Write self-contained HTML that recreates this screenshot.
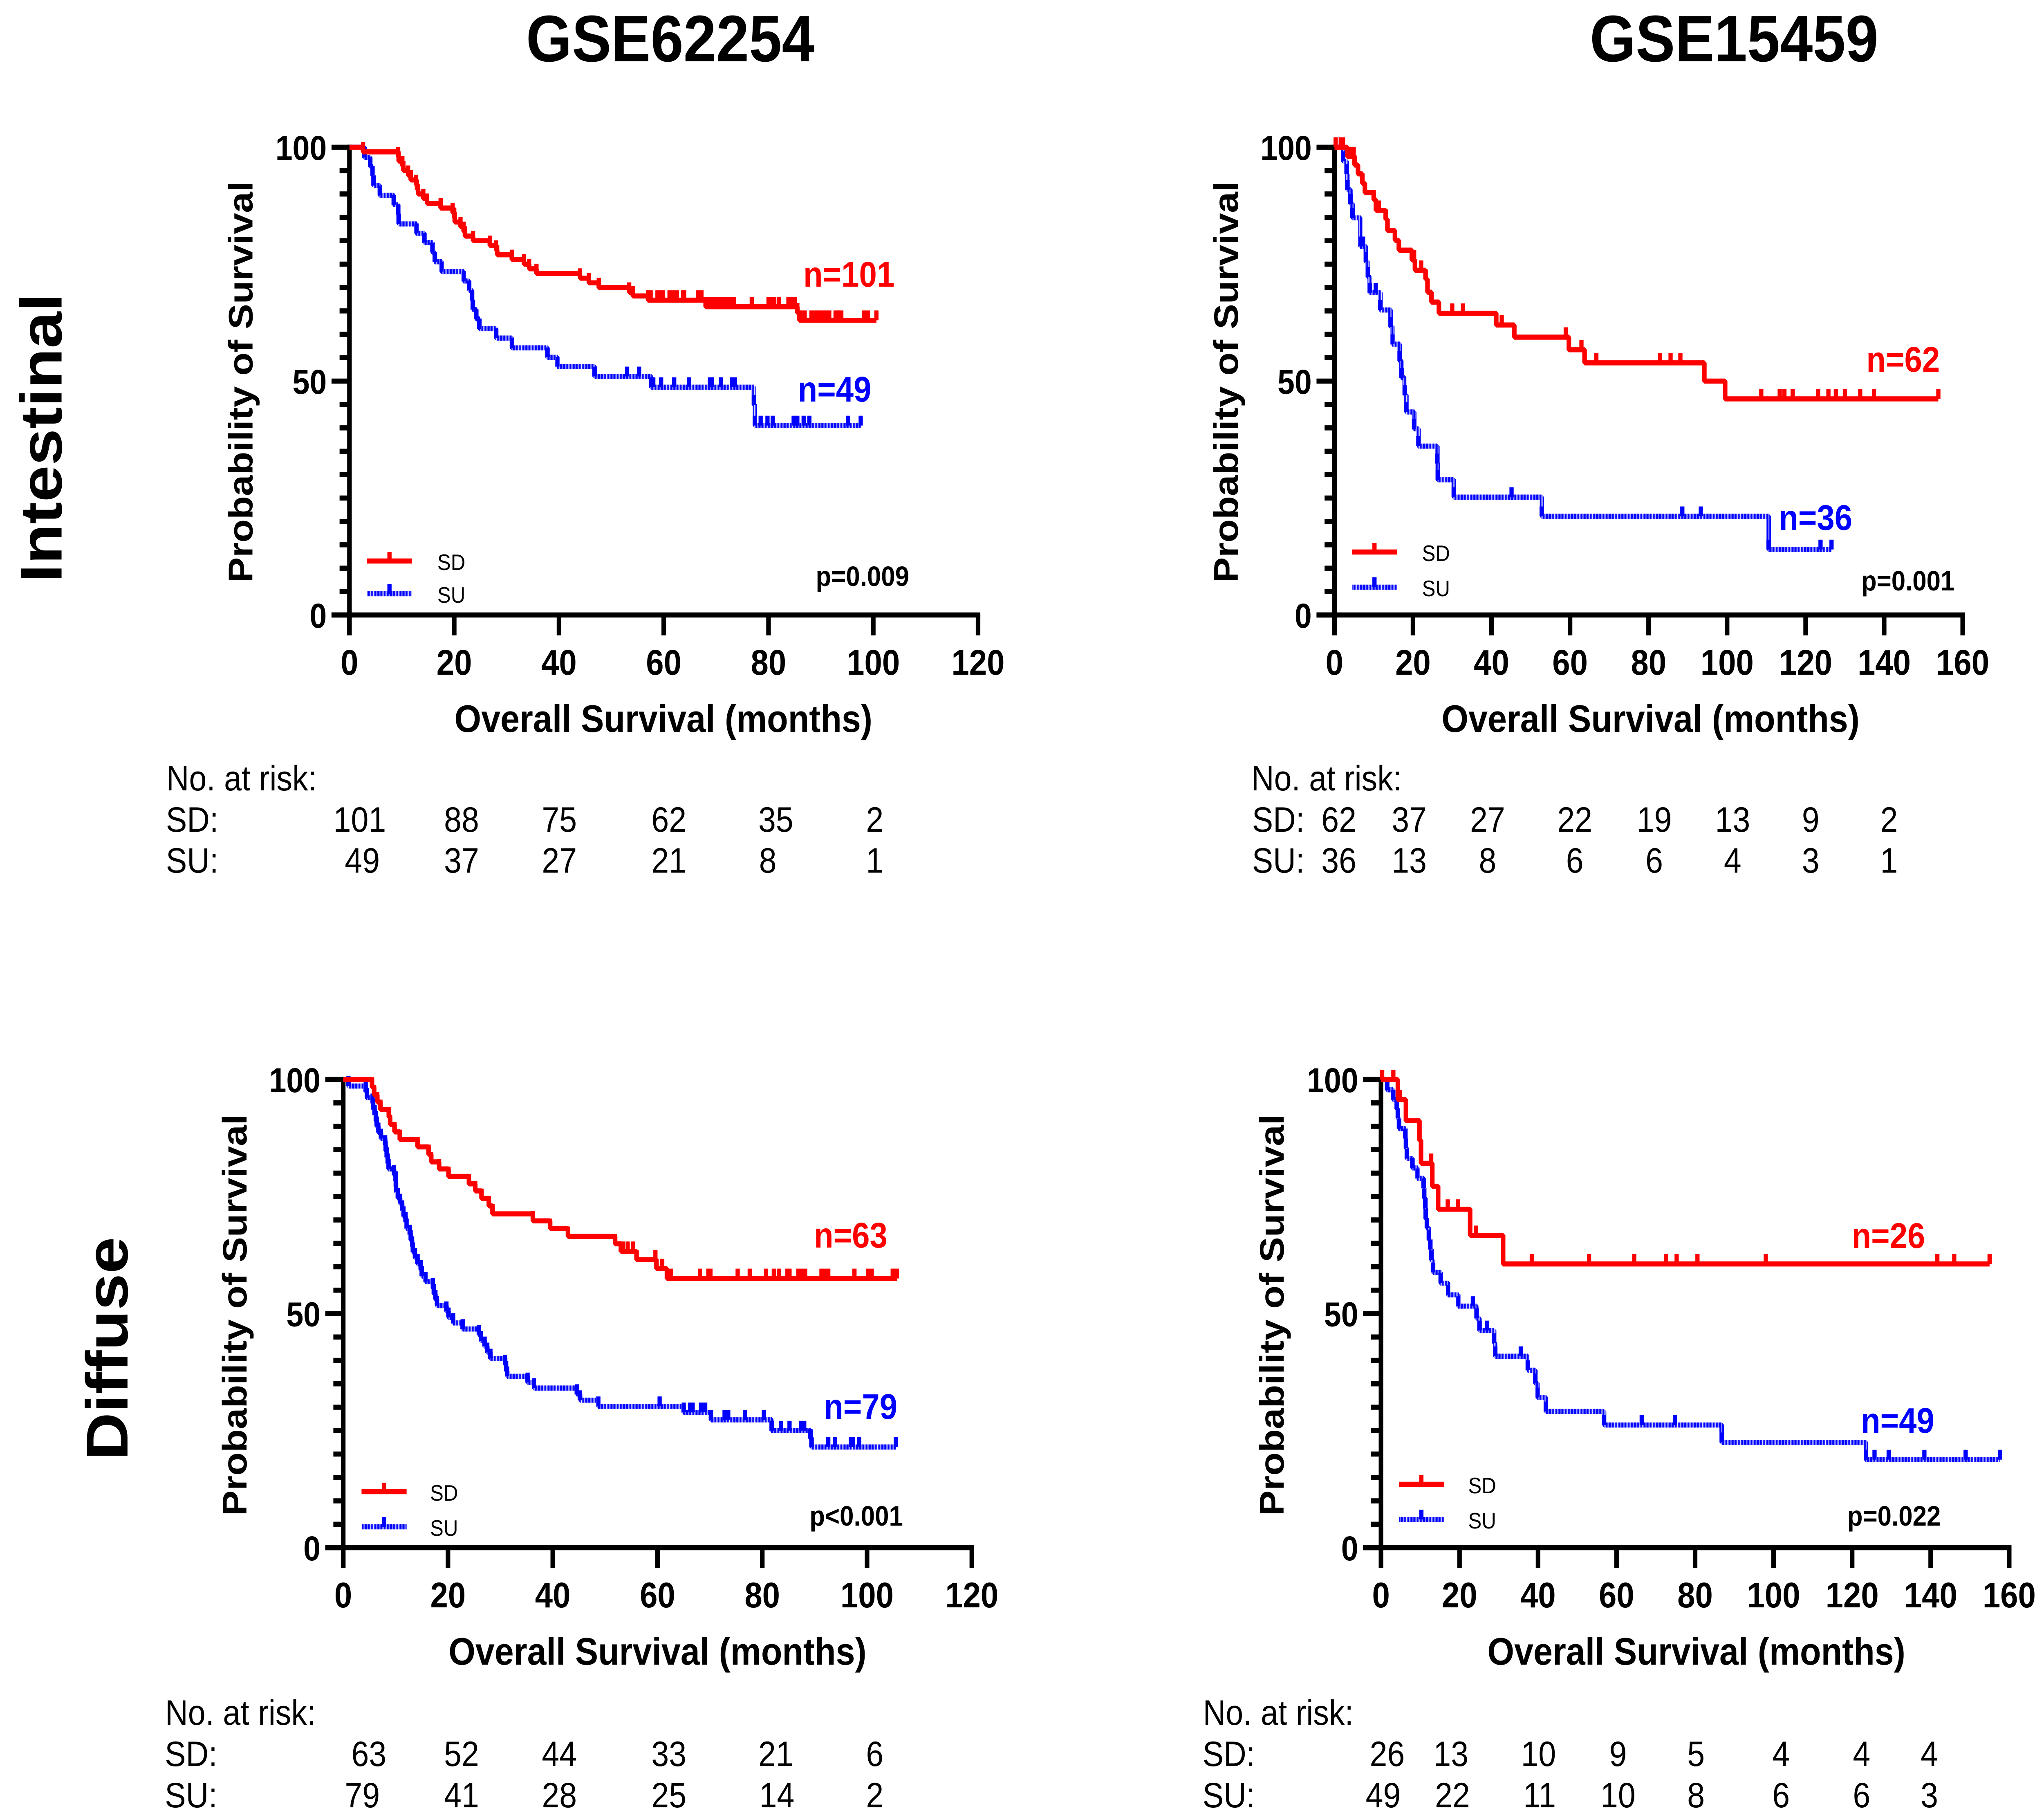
<!DOCTYPE html>
<html lang="en">
<head>
<meta charset="utf-8">
<title>Kaplan-Meier survival curves: GSE62254 and GSE15459</title>
<style>
html,body{margin:0;padding:0;background:#fff;width:100%;height:100%;overflow:hidden;}
svg{display:block;width:100vw;height:100vh;}
text{font-family:"Liberation Sans",Arial,sans-serif;fill:#000;}
.title{font-size:161px;font-weight:700;text-anchor:middle;}
.row{font-size:161px;font-weight:700;text-anchor:middle;}
.ytitle{font-size:93px;font-weight:700;text-anchor:start;}
.xtitle{font-size:94.2px;font-weight:700;text-anchor:middle;}
.nl{font-size:87px;font-weight:700;}
.pv{font-size:69px;font-weight:700;}
.rk{font-size:86px;}
.rn{font-size:86px;text-anchor:middle;}
.lg{font-size:55px;}
.tky{font-size:84px;font-weight:700;}
.tkx{font-size:87px;font-weight:700;}
</style>
</head>
<body>
<svg id="fig" xmlns="http://www.w3.org/2000/svg" viewBox="0 0 5580 4451" preserveAspectRatio="none">
<defs>
<pattern id="hatch" patternUnits="userSpaceOnUse" width="4" height="4"><rect width="3" height="4" fill="#0000ff"/></pattern>
</defs>
<rect width="5580" height="4451" fill="#fff"/>

<text class="title" x="1830" y="150">GSE62254</text>
<text class="title" x="4734" y="150">GSE15459</text>
<text class="row" transform="translate(168,1071) rotate(-90)">Intestinal</text>
<text class="row" transform="translate(348,3298) rotate(-90)">Diffuse</text>

<text class="ytitle" transform="translate(689,1425) rotate(-90)">Probability of Survival</text>
<text class="ytitle" transform="translate(3379,1425) rotate(-90)">Probability of Survival</text>
<text class="ytitle" transform="translate(673,3707) rotate(-90)">Probability of Survival</text>
<text class="ytitle" transform="translate(3504,3707) rotate(-90)">Probability of Survival</text>

<text class="xtitle" x="1811" y="1790">Overall Survival (months)</text>
<text class="xtitle" x="4506" y="1790">Overall Survival (months)</text>
<text class="xtitle" x="1795" y="4071">Overall Survival (months)</text>
<text class="xtitle" x="4631" y="4071">Overall Survival (months)</text>

<g id="plots"></g>

<text class="nl" x="2193" y="701" style="fill:#ff0000">n=101</text>
<text class="nl" x="2178" y="982" style="fill:#0000ff">n=49</text>
<text class="nl" x="5095" y="909" style="fill:#ff0000">n=62</text>
<text class="nl" x="4856" y="1296" style="fill:#0000ff">n=36</text>
<text class="nl" x="2222" y="3051" style="fill:#ff0000">n=63</text>
<text class="nl" x="2249" y="3470" style="fill:#0000ff">n=79</text>
<text class="nl" x="5055" y="3052" style="fill:#ff0000">n=26</text>
<text class="nl" x="5080" y="3504" style="fill:#0000ff">n=49</text>

<text class="pv" x="2227" y="1433">p=0.009</text>
<text class="pv" x="5081" y="1444">p=0.001</text>
<text class="pv" x="2210" y="3731">p&lt;0.001</text>
<text class="pv" x="5043" y="3731">p=0.022</text>

<g>
<text class="rk" x="454" y="1933">No. at risk:</text>
<text class="rk" x="453" y="2034">SD:</text>
<text class="rk" x="453" y="2134">SU:</text>
<text class="rn" x="982" y="2034">101</text>
<text class="rn" x="1260" y="2034">88</text>
<text class="rn" x="1527" y="2034">75</text>
<text class="rn" x="1826" y="2034">62</text>
<text class="rn" x="2118" y="2034">35</text>
<text class="rn" x="2388" y="2034">2</text>
<text class="rn" x="989" y="2134">49</text>
<text class="rn" x="1260" y="2134">37</text>
<text class="rn" x="1527" y="2134">27</text>
<text class="rn" x="1826" y="2134">21</text>
<text class="rn" x="2096" y="2134">8</text>
<text class="rn" x="2388" y="2134">1</text>
</g>

<g>
<text class="rk" x="3416" y="1933">No. at risk:</text>
<text class="rk" x="3418" y="2034">SD:</text>
<text class="rk" x="3418" y="2134">SU:</text>
<text class="rn" x="3655" y="2034">62</text>
<text class="rn" x="3847" y="2034">37</text>
<text class="rn" x="4061" y="2034">27</text>
<text class="rn" x="4299" y="2034">22</text>
<text class="rn" x="4516" y="2034">19</text>
<text class="rn" x="4730" y="2034">13</text>
<text class="rn" x="4943" y="2034">9</text>
<text class="rn" x="5157" y="2034">2</text>
<text class="rn" x="3655" y="2134">36</text>
<text class="rn" x="3847" y="2134">13</text>
<text class="rn" x="4061" y="2134">8</text>
<text class="rn" x="4299" y="2134">6</text>
<text class="rn" x="4516" y="2134">6</text>
<text class="rn" x="4730" y="2134">4</text>
<text class="rn" x="4943" y="2134">3</text>
<text class="rn" x="5157" y="2134">1</text>
</g>

<g>
<text class="rk" x="451" y="4218">No. at risk:</text>
<text class="rk" x="450" y="4319">SD:</text>
<text class="rk" x="450" y="4420">SU:</text>
<text class="rn" x="1007" y="4319">63</text>
<text class="rn" x="1260" y="4319">52</text>
<text class="rn" x="1527" y="4319">44</text>
<text class="rn" x="1826" y="4319">33</text>
<text class="rn" x="2118" y="4319">21</text>
<text class="rn" x="2388" y="4319">6</text>
<text class="rn" x="989" y="4420">79</text>
<text class="rn" x="1260" y="4420">41</text>
<text class="rn" x="1527" y="4420">28</text>
<text class="rn" x="1826" y="4420">25</text>
<text class="rn" x="2121" y="4420">14</text>
<text class="rn" x="2388" y="4420">2</text>
</g>

<g>
<text class="rk" x="3284" y="4218">No. at risk:</text>
<text class="rk" x="3283" y="4319">SD:</text>
<text class="rk" x="3283" y="4420">SU:</text>
<text class="rn" x="3787" y="4319">26</text>
<text class="rn" x="3961" y="4319">13</text>
<text class="rn" x="4200" y="4319">10</text>
<text class="rn" x="4417" y="4319">9</text>
<text class="rn" x="4630" y="4319">5</text>
<text class="rn" x="4862" y="4319">4</text>
<text class="rn" x="5082" y="4319">4</text>
<text class="rn" x="5267" y="4319">4</text>
<text class="rn" x="3776" y="4420">49</text>
<text class="rn" x="3965" y="4420">22</text>
<text class="rn" x="4203" y="4420">11</text>
<text class="rn" x="4417" y="4420">10</text>
<text class="rn" x="4630" y="4420">8</text>
<text class="rn" x="4862" y="4420">6</text>
<text class="rn" x="5082" y="4420">6</text>
<text class="rn" x="5267" y="4420">3</text>
</g>
</svg>

<script>
// ---- axis tick values ----
const yMajorTicks = [0, 50, 100];
const yMinorTicks = [5, 10, 15, 20, 25, 30, 35, 40, 45, 55, 60, 65, 70, 75, 80, 85, 90, 95];
const xTicks120 = [0, 20, 40, 60, 80, 100, 120];
const xTicks160 = [0, 20, 40, 60, 80, 100, 120, 140, 160];

// ---- GSE62254 intestinal ----
const aSdTimes = [2.6,9.3,9.4,10.1,10.3,11.2,11.7,12.7,12.9,13.1,14.1,14.8,17.4,19.7,20,20.1,21.2,21.8,22.05,23.6,26.8,28,28.2,31,33.3,34.3,35.7,44,45.7,47.6,53.4,54.1,57,68,85.5,85.9];
const aSdSurvival = [99,98,97,96,95,94,93,92,91,90,89,88,87,86,85,84,83,82,81,80,79,78,77,76,75,74,73,72,71,70,69,68.2,67.3,65.9,64.6,63];
const aSdCensored = [57,57.5,58.8,59.3,59.8,61.1,61.7,62.5,63.7,63.9,66.6,67.2,68.2,68.9,69.6,70.2,70.9,71.3,72,72.7,73.4,76.8,80,80.6,81.1,82,83.8,84.4,85,86.1,86.9,88.2,89,89.6,90.3,91,91.6,92.8,93.3,93.9,98.2,99,100.6];
const aSuTimes = [2.86,3.96,4.4,4.6,5.8,8.46,9.3,9.4,12.8,14.3,15.85,16.3,17.6,21.8,22.85,23.4,23.55,24.2,24.8,28,31,37.8,39.7,46.8,57.6,77.2,77.4];
const aSuSurvival = [97.8,95.9,93.9,91.8,89.7,87.7,85.7,83.6,81.6,79.6,77.5,75.5,73.4,71.4,69.4,67.3,65.3,63.3,61.2,59.2,57.1,55.1,53.1,51,48.7,44.9,40.5];
const aSuCensored = [53,55.3,58,59.5,62,64.8,68.8,69.2,70.9,73,73.6,78.5,79.8,80.8,84.8,85.5,86.7,87.8,95.2,97.6];

// ---- GSE15459 intestinal ----
const bSdTimes = [3.3,5.1,6,7.1,7.75,10,10.55,13.05,13.5,15.4,16.4,19.7,20.5,23.2,23.7,24.7,26.6,41.2,45.8,59.7,63.7,94.2,99.5];
const bSdSurvival = [98,96.2,94.3,92.3,90.3,88.8,86.5,84.6,82.2,80.1,78,75.9,73.7,71.8,69,66.9,64.5,62,59.4,56.7,53.9,50,46.2];
const bSdCensored = [0.3,1.6,2.2,3.5,4.3,4.9,11.3,20.3,22.1,30,32.7,42.6,58.9,62.9,66.7,82.9,85.6,88.1,108.7,113.4,114.6,116.7,123.2,125.8,127.7,130,133.9,137.4,153.8];
const bSuTimes = [2.2,3.1,3.3,4.1,4.6,6.6,8,8.5,9,11.7,14.3,14.8,16.6,17.1,17.9,18.3,20.3,21.4,26.2,26.3,30.4,52.8,110.6];
const bSuSurvival = [97,94.3,90.9,87.9,84.9,78.8,75.5,72.3,68.9,65.2,61.6,57.9,54.3,50.7,47,43.4,39.8,36.1,32.4,28.9,25.2,21.1,14];
const bSuCensored = [7.3,10.5,45.1,88.6,93.3,123.8,126.6];

// ---- GSE62254 diffuse ----
const cSdTimes = [5.5,5.9,6.5,7.1,8.7,8.95,9.8,10.8,14.2,16.3,16.8,18.3,20.1,24,25.2,26.4,27.8,28.5,36.2,39.5,42.9,51.9,53,56,59.8,61.8];
const cSdSurvival = [98.4,96.7,95.2,93.6,92,90.4,88.8,87.2,85.6,84,82.4,80.9,79.3,77.7,76.2,74.6,73,71.3,69.8,68.2,66.5,64.9,63.3,61.5,59.6,57.5];
const cSdCensored = [53.4,54.3,55.3,59.6,60.9,62.6,68.1,69.7,70.1,75.3,77.6,80.7,82.2,83.2,84.8,85.2,86.9,87.4,88.2,91.3,92,92.6,97.6,100.2,100.9,104.9,105.3,105.7];
const cSuTimes = [1,4.3,4.5,5.6,5.7,6,6.2,6.4,6.7,7.2,8,8.1,8.3,8.5,8.66,9.7,10,10.05,10.1,10.4,10.85,11.26,11.5,11.9,12.1,12.7,12.87,13.15,13.3,13.7,14.2,14.8,15,15.7,17.1,17.3,17.6,17.9,19.7,20.1,21,22.8,25.9,26.3,27,27.5,28.1,30.9,31.1,31.3,35.2,36.4,44.6,45.2,48.7,65,70.2,81.8,89.2,89.4];
const cSuSurvival = [98.6,97.4,96.1,94.9,93.7,92.4,91.2,90,88.7,87.4,86,84.7,83.4,82.1,80.9,79.6,78.3,77.1,76,74.7,73.5,72.1,70.8,69.6,68.2,66.9,65.7,64.4,63.1,61.9,60.6,59.4,58,56.8,55.5,54.2,53,51.7,50.5,49.2,48,46.7,45.5,44.2,43,41.7,40.4,39.1,37.8,36.6,35.3,34.1,32.8,31.5,30.2,28.9,27.3,25,23.3,21.5];
const cSuCensored = [60.4,66.2,66.7,68.3,69.1,72.8,73.5,76.7,80.3,83.6,85.2,87.4,88,92.6,93.9,96.9,97.3,98.5,105.5];

// ---- GSE15459 diffuse ----
const dSdTimes = [4.3,6.35,9.8,10.2,13.06,14.55,22.7,31.1];
const dSdSurvival = [95.7,91.2,87,82.1,77.2,72.3,66.7,60.6];
const dSdCensored = [0.3,3.15,4.8,12.8,17,19.6,24.2,38.4,53,64.5,72.6,75.3,80.6,98,141.7,146,155];
const dSuTimes = [1.57,3.1,4,4.3,4.6,6.2,6.35,6.6,8,9.3,10.85,11,11.3,11.4,11.7,12.2,12.56,12.85,13.26,15.2,17.1,19.7,24.35,25.1,28.8,29.1,37.4,39.3,39.9,42,56.8,86.8,123.5];
const dSuSurvival = [97.8,95.7,93.7,91.7,89.5,87.4,85.3,83.1,81.1,78.9,76.8,74.6,72.5,70.3,68.3,65.8,63.7,61.4,58.8,56.5,54,51.6,49,46.4,43.7,40.9,37.9,35.1,32.1,29.1,26.2,22.5,18.8];
const dSuCensored = [23.4,27,35.6,66.4,74.9,125.7,129.3,138.4,148.9,157.7];

// ---- panel layout (frame geometry only) ----
const panelA = {id:'a', left:954, bottom:1504, right:2670, top:360, xMax:120, xTicks:xTicks120, legLeft:1002, legRedY:1372, legBlueY:1452, legTextX:1197,
  sd:{t:aSdTimes, s:aSdSurvival, c:aSdCensored}, su:{t:aSuTimes, s:aSuSurvival, c:aSuCensored}};
const panelB = {id:'b', left:3643, bottom:1504, right:5358, top:360, xMax:160, xTicks:xTicks160, legLeft:3691, legRedY:1350, legBlueY:1436, legTextX:3885,
  sd:{t:bSdTimes, s:bSdSurvival, c:bSdCensored}, su:{t:bSuTimes, s:bSuSurvival, c:bSuCensored}};
const panelC = {id:'c', left:937, bottom:3785, right:2653, top:2640, xMax:120, xTicks:xTicks120, legLeft:987, legRedY:3648, legBlueY:3734, legTextX:1177,
  sd:{t:cSdTimes, s:cSdSurvival, c:cSdCensored}, su:{t:cSuTimes, s:cSuSurvival, c:cSuCensored}};
const panelD = {id:'d', left:3770, bottom:3785, right:5485, top:2640, xMax:160, xTicks:xTicks160, legLeft:3819, legRedY:3630, legBlueY:3716, legTextX:4011,
  sd:{t:dSdTimes, s:dSdSurvival, c:dSdCensored}, su:{t:dSuTimes, s:dSuSurvival, c:dSuCensored}};

const NS = 'http://www.w3.org/2000/svg';
const AXIS_W = 12.5;
const TICK_W = 11.5;
const TICK_H = 24;

function mk(tag, attrs, parent) {
  const el = document.createElementNS(NS, tag);
  for (const k in attrs) el.setAttribute(k, attrs[k]);
  parent.appendChild(el);
  return el;
}

function levelAt(series, t) {
  let lvl = 100;
  for (let i = 0; i < series.t.length; i++) {
    if (series.t[i] <= t) lvl = series.s[i];
  }
  return lvl;
}

function drawSeries(p, series, color, stroke, name, parent, xScale, yScale) {
  const g = mk('g', {}, parent);
  
  
  const lastCensor = series.c.length ? Math.max.apply(null, series.c) : 0;
  const lastEvent = series.t[series.t.length - 1];
  const end = Math.max(lastCensor, lastEvent);
  let d = 'M' + xScale(0) + ' ' + yScale(100);
  for (let i = 0; i < series.t.length; i++) {
    d += 'H' + xScale(series.t[i]).toFixed(1) + 'V' + yScale(series.s[i]).toFixed(1);
  }
  d += 'H' + xScale(end).toFixed(1);
  const line = mk('path', {d: d, fill: 'none', stroke: stroke, 'stroke-width': AXIS_W, 'stroke-linejoin': 'bevel'}, g);
  
  
  for (let i = 0; i < series.t.length; i++) {
    const tick = mk('rect', {x: (xScale(series.t[i]) - TICK_W / 2).toFixed(1), y: (yScale(series.s[i]) - TICK_H).toFixed(1), width: TICK_W, height: TICK_H, fill: color}, g);
    
    
  }
  for (let i = 0; i < series.c.length; i++) {
    const tick = mk('rect', {x: (xScale(series.c[i]) - TICK_W / 2).toFixed(1), y: (yScale(levelAt(series, series.c[i])) - TICK_H).toFixed(1), width: TICK_W, height: TICK_H, fill: color}, g);
    
    
  }
}

function drawPanel(p) {
  const root = document.getElementById('plots');
  const xScale = t => p.left + t * (p.right - p.left) / p.xMax;
  const yScale = s => p.bottom - s * (p.bottom - p.top) / 100;
  const g = mk('g', {}, root);
  
  

  const yAxis = mk('line', {x1: p.left, x2: p.left, y1: p.top - AXIS_W / 2, y2: p.bottom + 50, stroke: '#000', 'stroke-width': AXIS_W}, g);
  
  
  const xAxis = mk('line', {x1: p.left - 49, x2: p.right + AXIS_W / 2, y1: p.bottom, y2: p.bottom, stroke: '#000', 'stroke-width': AXIS_W}, g);
  
  

  yMinorTicks.forEach(v => {
    const m = mk('line', {x1: p.left - 27, x2: p.left, y1: yScale(v), y2: yScale(v), stroke: '#000', 'stroke-width': AXIS_W}, g);
    
    
  });
  yMajorTicks.forEach(v => {
    const m = mk('line', {x1: p.left - 49, x2: p.left, y1: yScale(v), y2: yScale(v), stroke: '#000', 'stroke-width': AXIS_W}, g);
    
    
    const l = mk('text', {x: p.left - 62, y: yScale(v) + 31, 'text-anchor': 'end', 'class': 'tky'}, g);
    l.textContent = String(v);
    
    
  });
  p.xTicks.forEach(v => {
    const m = mk('line', {x1: xScale(v), x2: xScale(v), y1: p.bottom, y2: p.bottom + 50, stroke: '#000', 'stroke-width': AXIS_W}, g);
    
    
    const l = mk('text', {x: xScale(v), y: p.bottom + 146, 'text-anchor': 'middle', 'class': 'tkx'}, g);
    l.textContent = String(v);
    
    
  });

  drawSeries(p, p.su, '#0000ff', 'url(#hatch)', 'series-su-' + p.id, g, xScale, yScale);
  drawSeries(p, p.sd, '#ff0000', '#ff0000', 'series-sd-' + p.id, g, xScale, yScale);

  const leg = mk('g', {}, g);
  
  
  const redLine = mk('line', {x1: p.legLeft, x2: p.legLeft + 123, y1: p.legRedY, y2: p.legRedY, stroke: '#ff0000', 'stroke-width': AXIS_W}, leg);
  
  
  const redTick = mk('rect', {x: p.legLeft + 55.5, y: p.legRedY - 22, width: TICK_W, height: 22, fill: '#ff0000'}, leg);
  
  
  const redText = mk('text', {x: p.legTextX - 3, y: p.legRedY + 22, 'class': 'lg'}, leg);
  redText.textContent = 'SD';
  
  
  const blueLine = mk('line', {x1: p.legLeft, x2: p.legLeft + 123, y1: p.legBlueY, y2: p.legBlueY, stroke: 'url(#hatch)', 'stroke-width': AXIS_W}, leg);
  
  
  const blueTick = mk('rect', {x: p.legLeft + 55.5, y: p.legBlueY - 24, width: TICK_W, height: 24, fill: '#0000ff'}, leg);
  
  
  const blueText = mk('text', {x: p.legTextX - 3, y: p.legBlueY + 22, 'class': 'lg'}, leg);
  blueText.textContent = 'SU';
  
  
}

[panelA, panelB, panelC, panelD].forEach(drawPanel);
</script>
</body>
</html>
